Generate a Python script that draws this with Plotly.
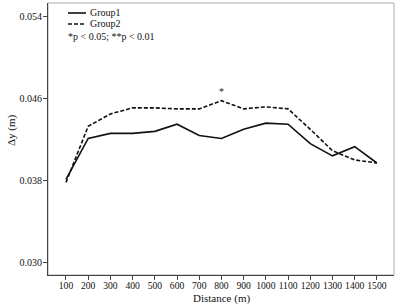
import plotly.graph_objects as go

distance = [100, 200, 300, 400, 500, 600, 700, 800, 900, 1000, 1100, 1200, 1300, 1400, 1500]
group1 = [0.0381, 0.0421, 0.0426, 0.0426, 0.0428, 0.0435, 0.0424, 0.0421, 0.0430, 0.0436, 0.0435, 0.0416, 0.0404, 0.0413, 0.0397]
group2 = [0.0378, 0.0433, 0.0445, 0.0451, 0.0451, 0.0450, 0.0450, 0.0458, 0.0450, 0.0452, 0.0450, 0.0430, 0.0409, 0.0400, 0.0397]
x_ticks = [100, 200, 300, 400, 500, 600, 700, 800, 900, 1000, 1100, 1200, 1300, 1400, 1500]
y_ticks = [0.030, 0.038, 0.046, 0.054]
y_tick_labels = ["0.030", "0.038", "0.046", "0.054"]
sig_x = [800]
sig_y = [0.0466]
sig_text = ["*"]

FONT = "Liberation Serif"

fig = go.Figure()
fig.add_trace(go.Scatter(x=distance, y=group1, mode="lines", name="Group1",
                         line=dict(color="#111111", width=1.6), showlegend=False))
fig.add_trace(go.Scatter(x=distance, y=group2, mode="lines", name="Group2",
                         line=dict(color="#111111", width=1.6, dash="4px,2px"), showlegend=False))
fig.add_trace(go.Scatter(x=sig_x, y=sig_y, mode="text", text=sig_text,
                         textfont=dict(family=FONT, size=10, color="#222"), showlegend=False))

PW, PH = 346, 272
def px(x):
    return (x - 48) / PW
def py(y):
    return (275 - y) / PH

shapes = [
    dict(type="rect", xref="paper", yref="paper", x0=0, x1=1, y0=0, y1=1,
         line=dict(color="#aaaaaa", width=1), layer="below"),
    dict(type="line", xref="paper", yref="paper", x0=px(68), x1=px(86),
         y0=py(13), y1=py(13), line=dict(color="#111", width=1.6)),
    dict(type="line", xref="paper", yref="paper", x0=px(68), x1=px(86),
         y0=py(24), y1=py(24), line=dict(color="#111", width=1.6, dash="4px,2px")),
]
tf = dict(family=FONT, size=10, color="#111")
annotations = [
    dict(xref="paper", yref="paper", x=px(88), y=py(13), text="Group1",
         showarrow=False, xanchor="left", yanchor="middle", font=tf),
    dict(xref="paper", yref="paper", x=px(88), y=py(24), text="Group2",
         showarrow=False, xanchor="left", yanchor="middle", font=tf),
    dict(xref="paper", yref="paper", x=px(66), y=py(36), text="*p &lt; 0.05; **p &lt; 0.01",
         showarrow=False, xanchor="left", yanchor="middle", font=tf),
    dict(xref="paper", yref="paper", x=0.5, y=py(298), text="Distance (m)",
         showarrow=False, xanchor="center", yanchor="middle",
         font=dict(family=FONT, size=11, color="#111")),
    dict(xref="paper", yref="paper", x=px(11), y=py(130), text="Δy (m)", textangle=-90,
         showarrow=False, xanchor="center", yanchor="middle",
         font=dict(family=FONT, size=11, color="#111")),
]

fig.update_layout(
    width=397, height=306,
    margin=dict(l=48, r=3, t=3, b=31),
    paper_bgcolor="white", plot_bgcolor="white",
    font=dict(family=FONT, size=10, color="#111"),
    shapes=shapes, annotations=annotations,
    xaxis=dict(range=[19, 1577], tickvals=x_ticks, ticktext=[str(v) for v in x_ticks],
               showgrid=False, zeroline=False, showline=True, linecolor="#444", linewidth=1,
               ticks="outside", ticklen=4, tickcolor="#444", automargin=False,
               ticklabelstandoff=-3,
               tickfont=dict(family=FONT, size=9.6)),
    yaxis=dict(range=[0.02873, 0.05537], tickvals=y_ticks, ticktext=y_tick_labels,
               showgrid=False, zeroline=False, showline=True, linecolor="#444", linewidth=1,
               ticks="outside", ticklen=4, tickcolor="#444", automargin=False,
               ticklabelstandoff=-1,
               tickfont=dict(family=FONT, size=10)),
)

fig.write_html("out.html", config={"displayModeBar": False},
               post_script="document.body.style.margin='0';")
